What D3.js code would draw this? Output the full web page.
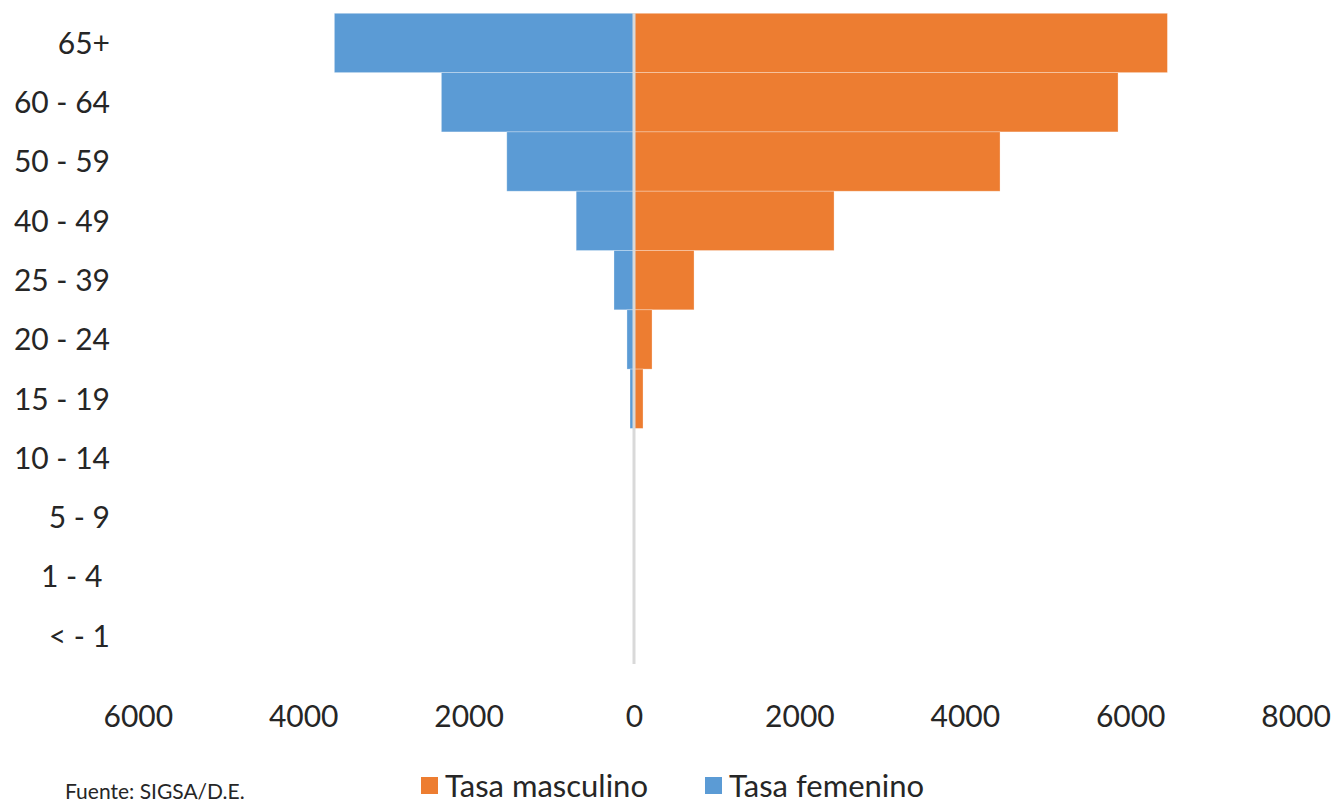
<!DOCTYPE html>
<html>
<head>
<meta charset="utf-8">
<script src="https://cdn.jsdelivr.net/npm/d3@7/dist/d3.min.js"></script>
<style>
  html, body { margin: 0; padding: 0; background: #ffffff; }
  svg { display: block; }
  text { font-family: Lato, "Open Sans", sans-serif; fill: #262626; white-space: pre; }
</style>
</head>
<body>
<svg id="chart" width="1334" height="805"></svg>
<script>
// Age groups, top to bottom
const categories = ["65+", "60 - 64", "50 - 59", "40 - 49", "25 - 39", "20 - 24", "15 - 19", "10 - 14", "5 - 9", "1 - 4 ", "< - 1"];
// Rates
const tasaMasculino = [6450, 5853, 4426, 2419, 726, 218, 109, 0, 0, 0, 0];
const tasaFemenino  = [3623, 2329, 1538, 699, 242, 85, 48, 0, 0, 0, 0];
// X axis ticks (signed) and their labels
const tickValues = [-6000, -4000, -2000, 0, 2000, 4000, 6000, 8000];
const tickLabels = ["6000", "4000", "2000", "0", "2000", "4000", "6000", "8000"];
const seriesNames = ["Tasa masculino", "Tasa femenino"];
const sourceNote = "Fuente: SIGSA/D.E.";

const colors = { male: "#ED7D31", female: "#5B9BD5" };

const svg = d3.select("#chart");

const x = d3.scaleLinear().domain([-6000, 8000]).range([137.8, 1295.6]);
const y = d3.scaleBand().domain(categories).range([13.3, 665.6]).padding(0);

// Female bars (left)
svg.append("g").selectAll("rect")
  .data(categories.map((c, i) => ({ c, v: tasaFemenino[i] })).filter(d => d.v > 0))
  .join("rect")
  .attr("x", d => x(-d.v))
  .attr("y", d => y(d.c))
  .attr("width", d => x(0) - x(-d.v))
  .attr("height", y.bandwidth())
  .attr("fill", colors.female)
  .attr("stroke", "#ffffff").attr("stroke-opacity", 0.35).attr("stroke-width", 0.8);

// Male bars (right)
svg.append("g").selectAll("rect")
  .data(categories.map((c, i) => ({ c, v: tasaMasculino[i] })).filter(d => d.v > 0))
  .join("rect")
  .attr("x", x(0))
  .attr("y", d => y(d.c))
  .attr("width", d => x(d.v) - x(0))
  .attr("height", y.bandwidth())
  .attr("fill", colors.male)
  .attr("stroke", "#ffffff").attr("stroke-opacity", 0.35).attr("stroke-width", 0.8);

// Zero (category axis) line
svg.append("line")
  .attr("x1", x(0)).attr("x2", x(0))
  .attr("y1", 13).attr("y2", 664)
  .attr("stroke", "#d9d9d9").attr("stroke-width", 3);

// Category labels
const yAxis = d3.axisLeft(y).tickSize(0).tickPadding(0);
const gy = svg.append("g").attr("transform", "translate(110,0)").call(yAxis);
gy.select(".domain").remove();
gy.selectAll("text")
  .attr("font-size", 30)
  .attr("font-family", "Lato, sans-serif")
  .attr("fill", "#262626")
  .attr("dy", "0.36em")
  .style("white-space", "pre");

// X axis labels
const xAxis = d3.axisBottom(x).tickValues(tickValues).tickSize(0).tickPadding(0)
  .tickFormat((d, i) => tickLabels[i]);
const gx = svg.append("g").attr("transform", "translate(0,706)").call(xAxis);
gx.select(".domain").remove();
gx.selectAll("text")
  .attr("font-size", 30)
  .attr("font-family", "Lato, sans-serif")
  .attr("fill", "#262626")
  .attr("dy", "0.71em");

// Source note
svg.append("text")
  .attr("x", 65).attr("y", 799)
  .attr("font-size", 21)
  .text(sourceNote);

// Legend
const legend = [
  { name: seriesNames[0], color: colors.male, x: 421 },
  { name: seriesNames[1], color: colors.female, x: 705 }
];
const lg = svg.append("g").selectAll("g").data(legend).join("g")
  .attr("transform", d => `translate(${d.x},0)`);
lg.append("rect").attr("x", 0).attr("y", 777).attr("width", 17).attr("height", 17).attr("fill", d => d.color);
lg.append("text").attr("x", 24).attr("y", 797).attr("font-size", 31).text(d => d.name);
</script>
</body>
</html>
